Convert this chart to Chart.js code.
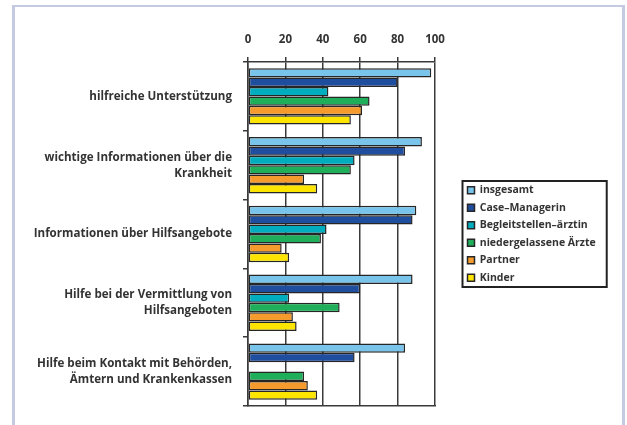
<!DOCTYPE html>
<html lang="de">
<head>
<meta charset="utf-8">
<title>Unterstützung</title>
<script src="https://cdn.jsdelivr.net/npm/chart.js@4.4.0/dist/chart.umd.min.js"></script>
<style>
  html, body { margin: 0; padding: 0; background: #fff; }
  body { width: 627px; height: 425px; position: relative; overflow: hidden; }
  .frame { position: absolute; left: 12px; top: 5px; width: 607px; height: 440px;
           border: 3px solid #c4cae2; border-top-width: 2px; }
  .wrap { position: absolute; left: 0; top: 0; width: 627px; height: 425px; }
</style>
</head>
<body>
<div class="frame"></div>
<div class="wrap"><canvas id="chart"></canvas></div>
<script>
// --- Data ---
const categories = [
  'hilfreiche Unterstützung',
  ['wichtige Informationen über die', 'Krankheit'],
  'Informationen über Hilfsangebote',
  ['Hilfe bei der Vermittlung von', 'Hilfsangeboten'],
  ['Hilfe beim Kontakt mit Behörden,', 'Ämtern und Krankenkassen']
];
const seriesLabels = ['insgesamt', 'Case–Managerin', 'Begleitstellen–ärztin', 'niedergelassene Ärzte', 'Partner', 'Kinder'];
const insgesamt = [98, 93, 90, 88, 84];
const caseManagerin = [80, 84, 88, 60, 57];
const begleitstellenAerztin = [43, 57, 42, 22, null];
const niedergelasseneAerzte = [65, 55, 39, 49, 30];
const partner = [61, 30, 18, 24, 32];
const kinder = [55, 37, 22, 26, 37];
const tickValues = [0, 20, 40, 60, 80, 100];

const seriesValues = [insgesamt, caseManagerin, begleitstellenAerztin, niedergelasseneAerzte, partner, kinder];
const seriesColors = ['#78c4ea', '#1f4e9e', '#00adbf', '#1faf5a', '#f59a2c', '#fde500'];

Chart.defaults.font.family = "'Open Sans', sans-serif";
Chart.defaults.font.size = 11;
Chart.defaults.font.weight = 'bold';
Chart.defaults.color = '#333';

const lineColor = '#3a3a3a';

// --- Frame around the legend ---
const legendFrame = {
  id: 'legendFrame',
  afterDraw(chart) {
    const boxes = chart.legend && chart.legend.legendHitBoxes;
    if (!boxes || !boxes.length) return;
    const ctx = chart.ctx;
    const left = Math.min(...boxes.map(b => b.left)) - 5;
    const right = Math.max(...boxes.map(b => b.left + b.width)) + 11;
    const top = boxes[0].top - 4;
    const last = boxes[boxes.length - 1];
    const bottom = last.top + last.height + 4;
    ctx.save();
    ctx.strokeStyle = '#222';
    ctx.lineWidth = 2;
    ctx.strokeRect(left, top, right - left, bottom - top);
    ctx.restore();
  }
};

new Chart(document.getElementById('chart'), {
  type: 'bar',
  data: {
    labels: categories,
    datasets: seriesLabels.map((label, i) => ({
      label: label,
      data: seriesValues[i],
      backgroundColor: seriesColors[i],
      borderColor: '#262626',
      borderWidth: 1.5,
      borderSkipped: false,
      categoryPercentage: 0.82,
      barPercentage: 1
    }))
  },
  options: {
    indexAxis: 'y',
    responsive: true,
    maintainAspectRatio: false,
    animation: false,
    layout: { padding: { left: 20, top: 20, right: 26.5, bottom: 17 } },
    scales: {
      x: {
        position: 'top',
        min: 0,
        max: 100,
        afterBuildTicks: s => { s.ticks = tickValues.map(v => ({ value: v })); },
        afterFit: s => { s.height = 42; },
        ticks: { padding: 10, color: '#333', font: { size: 11.5 } },
        grid: { color: lineColor, lineWidth: 1.5, tickLength: 5, tickColor: lineColor },
        border: { color: lineColor, width: 1.5 }
      },
      xBottom: {
        type: 'linear',
        position: 'bottom',
        min: 0,
        max: 100,
        ticks: { display: false },
        grid: { display: false, drawTicks: false },
        border: { display: true, color: lineColor, width: 1.5 }
      },
      y: {
        afterFit: s => { s.width = 228; },
        ticks: { padding: 11, color: '#333', font: { size: 11.6, lineHeight: 1.38 } },
        grid: { drawOnChartArea: false, offset: true, tickLength: 5, color: lineColor, lineWidth: 1.5 },
        border: { color: lineColor, width: 1.5 }
      },
      yGap: {
        type: 'category',
        position: 'right',
        ticks: { display: false },
        grid: { display: false, drawTicks: false },
        border: { display: false },
        afterFit: s => { s.width = 25.5; }
      }
    },
    plugins: {
      legend: {
        position: 'right',
        fullSize: false,
        maxWidth: 140,
        labels: { boxWidth: 7, boxHeight: 7, padding: 7, color: '#333', font: { size: 10.5 } }
      },
      tooltip: { enabled: false }
    }
  },
  plugins: [legendFrame]
});
</script>
</body>
</html>
